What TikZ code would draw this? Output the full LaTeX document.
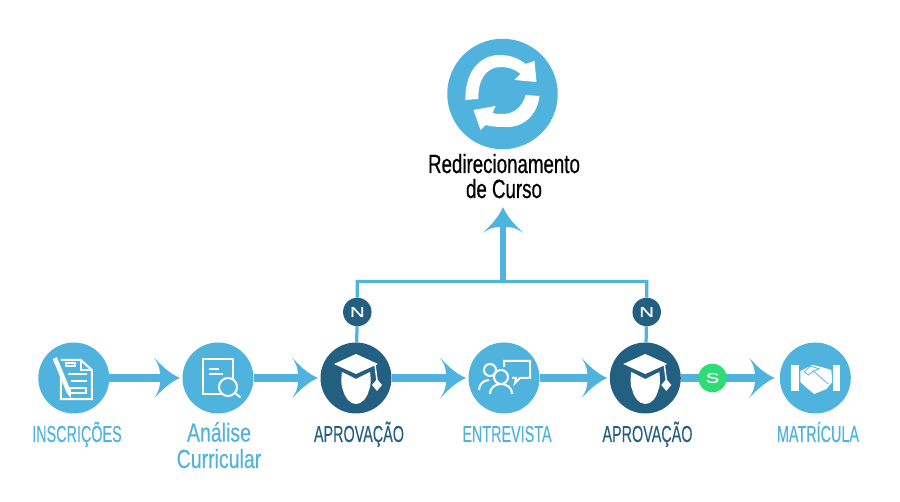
\documentclass[tikz,border=0pt]{standalone}
\usepackage{fontspec}
\setmainfont{Liberation Sans}[FakeStretch=0.62,FakeBold=0.25]
\newfontfamily\widefont{Liberation Sans}[FakeStretch=1.45,FakeBold=0.4]
\newfontfamily\headfont{Liberation Sans}[FakeStretch=0.71,FakeBold=0.6]
\newfontfamily\midfont{Liberation Sans}[FakeStretch=0.74,FakeBold=0.25]
\usetikzlibrary{positioning,arrows,calc}
\definecolor{sky}{HTML}{50B3DE}
\definecolor{deep}{HTML}{235F80}
\definecolor{lime}{HTML}{2EDC75}
\pgfarrowsdeclare{swoop}{swoop}{\pgfarrowsleftextend{-4.8pt}\pgfarrowsrightextend{10pt}}{
  \pgfpathmoveto{\pgfqpoint{10pt}{0pt}}
  \pgfpathcurveto{\pgfqpoint{4pt}{2.5pt}}{\pgfqpoint{-1pt}{7.5pt}}{\pgfqpoint{-4.8pt}{11.66pt}}
  \pgfpathcurveto{\pgfqpoint{-1.5pt}{7pt}}{\pgfqpoint{-1pt}{3pt}}{\pgfqpoint{-1.5pt}{0pt}}
  \pgfpathcurveto{\pgfqpoint{-1pt}{-3pt}}{\pgfqpoint{-1.5pt}{-7pt}}{\pgfqpoint{-4.8pt}{-11.66pt}}
  \pgfpathcurveto{\pgfqpoint{-1pt}{-7.5pt}}{\pgfqpoint{4pt}{-2.5pt}}{\pgfqpoint{10pt}{0pt}}
  \pgfpathclose
  \pgfusepathqfill
}
\tikzset{stage/.style={circle,fill=sky,inner sep=0pt,outer sep=0pt,minimum size=1.42cm}}
\tikzset{gate/.style={stage,fill=deep}}
\tikzset{bigstage/.style={stage,minimum size=2.21cm}}
\tikzset{answer/.style={circle,fill=deep,inner sep=0pt,outer sep=0pt,minimum size=.57cm,text=white,font=\widefont\fontsize{8}{9}\selectfont}}
\tikzset{answeryes/.style={answer,fill=lime}}
\tikzset{flow/.style={sky,line width=.16cm,-swoop,shorten >=.05cm}}
\tikzset{upflow/.style={sky,line width=.12cm,-swoop}}
\tikzset{link/.style={sky,line width=.065cm}}
\tikzset{caption/.style={anchor=base,inner sep=0pt,align=center,font=\fontsize{13.2}{15}\selectfont,text=sky}}
\tikzset{midcaption/.style={caption,font=\midfont\fontsize{15}{15}\selectfont}}
\tikzset{gatecaption/.style={caption,text=deep}}
\tikzset{bigcaption/.style={caption,text=black,font=\headfont\fontsize{15}{15}\selectfont}}
\tikzset{icon/.style={x=.02cm,y=-.02cm,line width=.04cm,draw=white,line join=miter}}
\tikzset{
  sheetpen/.pic={
    \begin{scope}[icon]
      \draw (-13,-18) -- (7,-18) -- (18,-8) -- (18,21) -- (-13,21) -- (-13,-4);
      \draw (7,-18) -- (7,-8) -- (18,-8);
      \draw (-8,-15) rectangle (1,-12);
      \draw (-6,-4) -- (13,-4);
      \draw (-3,3) -- (13,3);
      \draw (-4,10) rectangle (12,15);
      \fill[white] (-21,-19) -- (-17,-21) -- (-3,13) -- (-3,20) -- (-7,15) -- cycle;
    \end{scope}
  },
  sheetlens/.pic={
    \begin{scope}[icon]
      \draw (-15,-19) rectangle (15,16);
      \draw (-9,-9) -- (1,-9);
      \draw (-9,-4) -- (5,-4);
      \draw[fill=sky] (10,9) circle (9);
      \draw[line cap=round] (17,15) -- (22,19);
    \end{scope}
  },
  gradcap/.pic={
    \begin{scope}[icon]
      \fill[white] (-22,-14) -- (0,-24) -- (22,-14) -- (0,-4) -- cycle;
      \fill[white] (-14,-6) -- (0,1) -- (14,-6) .. controls (15,2) and (15,8) .. (13,12)
        .. controls (11,20) and (6,26) .. (0,26) .. controls (-6,26) and (-11,20) .. (-13,12)
        .. controls (-15,8) and (-15,2) .. (-14,-6) -- cycle;
      \draw[line width=.03cm] (19,-13) -- (21,2);
      \fill[white] (21,1) -- (26,7) -- (21,13) -- (16,7) -- cycle;
    \end{scope}
  },
  talkers/.pic={
    \begin{scope}[icon]
      \draw (0,-11) -- (0,-17) -- (26,-17) -- (26,0) -- (16,0) -- (11,5) -- (12,0) -- (8,0);
      \draw (-14,-8) circle (6);
      \draw (-25,12) .. controls (-25,6) and (-20,2) .. (-15,2);
      \draw[fill=sky] (-3,-1) circle (7);
      \draw (-14,16) .. controls (-14,9) and (-8,6) .. (-3,6) .. controls (2,6) and (8,9) .. (8,16);
    \end{scope}
  },
  handshake/.pic={
    \begin{scope}[icon]
      \fill[white] (-24,-13) rectangle (-16,13);
      \fill[white] (18,-13) rectangle (25,13);
      \fill[white] (-15,-7) -- (-3,-13) -- (6,-11) -- (16,-8) -- (17,4) -- (11,11) -- (-1,16) -- (-6,12) -- (-15,4) -- cycle;
      \draw[sky,line width=.015cm] (-11,-6) -- (-5,-12) -- (4,-9) -- (-2,-7) -- (-7,-3) -- (-11,-6);
      \draw[sky,line width=.015cm] (-2,-7) -- (13,6);
    \end{scope}
  },
  reload/.pic={
    \begin{scope}[icon]
      \fill[white] (-37,6) .. controls (-38,-20) and (-24,-39) .. (-3,-39) .. controls (7,-39) and (16,-36) .. (23,-30)
        -- (32,-33) -- (34,-12) -- (12,-14) -- (18,-20) .. controls (12,-25) and (6,-27) .. (-2,-27)
        .. controls (-16,-27) and (-25,-14) .. (-24,5) -- cycle;
      \fill[white] (23,1) .. controls (21,11) and (12,20) .. (1,20) .. controls (-3,20) and (-6,20) .. (-10,19)
        -- (-7,12) -- (-29,16) -- (-22,36) -- (-17,31) .. controls (-10,33) and (-2,33) .. (5,33)
        .. controls (22,33) and (35,20) .. (37,2) -- cycle;
    \end{scope}
  }
}

\begin{document}
\begin{tikzpicture}
  \useasboundingbox (0,0) rectangle (18,10.04);

  \node[bigstage] (redo) at (10.05,8.16) {};
  \node[stage] (ins) at (1.476,2.48) {};
  \node[stage] (ana) at (4.36,2.48) {};
  \node[gate] (apr1) at (7.12,2.48) {};
  \node[stage] (ent) at (10.08,2.48) {};
  \node[gate] (apr2) at (12.906,2.48) {};
  \node[stage] (mat) at (16.306,2.48) {};
  \node[answer] (no1) at (7.146,3.8) {N};
  \node[answer] (no2) at (12.934,3.8) {N};

  \pic at (ins) {sheetpen};
  \pic at (ana) {sheetlens};
  \pic at (apr1) {gradcap};
  \pic at (ent) {talkers};
  \pic at (apr2) {gradcap};
  \pic at (mat) {handshake};
  \pic at (redo) {reload};

  \node[caption] (tins) at (1.54,1.2) {INSCRIÇÕES};
  \node[midcaption] (tana) at (4.38,.68) {Análise\\Curricular};
  \node[gatecaption] (tapr1) at (7.18,1.2) {APROVAÇÃO};
  \node[caption] (tent) at (10.14,1.2) {ENTREVISTA};
  \node[gatecaption] (tapr2) at (12.95,1.2) {APROVAÇÃO};
  \node[caption] (tmat) at (16.36,1.2) {MATRÍCULA};
  \node[bigcaption] (tredo) at (10.08,6.58) {Redirecionamento};
  \node[bigcaption] (tredo2) at (10.08,6.08) {de Curso};

  \coordinate (cl) at (7.146,4.41);
  \coordinate (cr) at (12.934,4.41);
  \coordinate (jn) at (10.06,4.38);
  \coordinate (tip) at (10.06,5.9);

  \draw[link] (apr1) -- (no1) -- (cl) -- (cr) -- (no2) -- (apr2);
  \draw[upflow] (jn) -- (tip);

  \draw[flow] (ins) -- (ana);
  \draw[flow] (ana) -- (apr1);
  \draw[flow] (apr1) -- (ent);
  \draw[flow] (ent) -- (apr2);
  \draw[flow,shorten >=.1cm] (apr2) -- (mat) node[answeryes,pos=.32] (yes) {S};
\end{tikzpicture}
\end{document}
